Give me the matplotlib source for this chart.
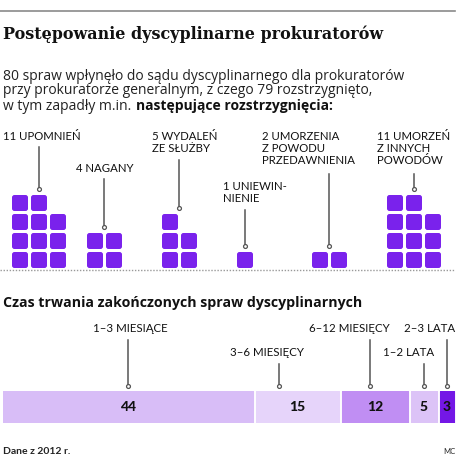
import matplotlib
matplotlib.use("Agg")
import matplotlib.pyplot as plt
from matplotlib.patches import FancyBboxPatch
import numpy as np

plt.rcParams['font.family'] = ['Lato', 'DejaVu Sans']

# --- data ---
title = "Postępowanie dyscyplinarne prokuratorów"
intro = ["80 spraw wpłynęło do sądu dyscyplinarnego dla prokuratorów",
         "przy prokuratorze generalnym, z czego 79 rozstrzygnięto,",
         "w tym zapadły m.in. "]
intro_bold = "następujące rozstrzygnięcia:"

verdict_labels = ["11 UPOMNIEŃ", "4 NAGANY", "5 WYDALEŃ\nZE SŁUŻBY",
                  "1 UNIEWIN-\nNIENIE", "2 UMORZENIA\nZ POWODU\nPRZEDAWNIENIA",
                  "11 UMORZEŃ\nZ INNYCH\nPOWODÓW"]
verdict_counts = [11, 4, 5, 1, 2, 11]
verdict_cols = [3, 2, 2, 1, 2, 3]

duration_title = "Czas trwania zakończonych spraw dyscyplinarnych"
duration_labels = ["1–3 MIESIĄCE", "3–6 MIESIĘCY", "6–12 MIESIĘCY", "1–2 LATA", "2–3 LATA"]
duration_values = [44, 15, 12, 5, 3]

source = "Dane z 2012 r."
author = "MC"

# --- styles / layout ---
W, H = 464, 462
sq_color = "#7a22ec"
bar_colors = ["#d8bdf7", "#e6d4fa", "#c08ef3", "#dcc3f7", "#7417e6"]
line_color = "#555555"
wide = ['Open Sans', 'DejaVu Sans']

fig = plt.figure(figsize=(W / 100, H / 100), dpi=100)
ax = fig.add_axes([0, 0, 1, 1])
ax.set_xlim(0, W)
ax.set_ylim(H, 0)
ax.axis("off")

ax.plot([0, 455], [11, 11], color="#8a8a8a", lw=1.2)
ax.text(3, 34, title, family=['DejaVu Serif'], weight="bold", fontsize=11.5,
        va="center", ha="left", color="#111111")
for i, line in enumerate(intro):
    t = ax.text(3, 76 + 15 * i, line, family=wide, fontsize=10, va="center",
                ha="left", color="#222222")
r = fig.canvas.get_renderer()
bb = t.get_window_extent(renderer=r)
ax.text(3 + bb.width + 1, 76 + 30, intro_bold, family=wide, fontsize=10,
        weight="bold", va="center", ha="left", color="#111111")

# squares
sq, step = 16, 19
base_y = 268
group_x0 = [12 + 75 * i for i in range(len(verdict_counts))]
label_x = [3, 76, 152, 223, 262, 377]
label_top = [131, 163, 131, 181, 131, 131]
for n, ncol, x0, lab, lx, ly in zip(verdict_counts, verdict_cols, group_x0,
                                    verdict_labels, label_x, label_top):
    heights = [n // ncol + (1 if c < n % ncol else 0) for c in range(ncol)]
    for c, h in enumerate(heights):
        for rrow in range(h):
            x = x0 + c * step
            y = base_y - rrow * step - sq
            ax.add_patch(FancyBboxPatch((x + 1.5, y + 1.5), sq - 3, sq - 3,
                                        boxstyle="round,pad=1.5,rounding_size=2.5",
                                        fc=sq_color, ec="none"))
    nl = lab.count("\n") + 1
    ax.text(lx, ly, lab, fontsize=8.2, va="top", ha="left", color="#111111",
            linespacing=1.1)
    cx = x0 + (ncol * step - 3) / 2
    top = base_y - max(heights) * step
    y_start = ly + nl * 13.2 + 3
    ax.plot([cx, cx], [y_start, top - 3], color=line_color, lw=1.1)
    ax.plot(cx, top - 3, "o", ms=2.8, mfc="white", mec=line_color, mew=0.9)

ax.plot([0, 455], [270, 270], color="#999999", lw=1, ls=(0, (1, 1.2)))

# duration section
ax.text(3, 303, duration_title, family=wide, fontsize=10.2, weight="bold",
        va="center", ha="left", color="#111111")

bax = fig.add_axes([3 / W, 1 - 423 / H, 454 / W, 32 / H])
total = sum(duration_values)
gap = 3 * total / 454
lefts = np.concatenate([[0], np.cumsum(duration_values)[:-1]])
bax.barh(0, [v - gap for v in duration_values], left=lefts, height=1,
         color=bar_colors, edgecolor=bar_colors, lw=0.8, joinstyle="round")
bax.set_xlim(0, total)
bax.set_ylim(-0.5, 0.5)
bax.axis("off")
for l, v in zip(lefts, duration_values):
    bax.text(l + (v - gap) / 2, 0, str(v), fontsize=10, weight="black",
             ha="center", va="center", color="#111111")

line_frac = [0.5, 0.28, 0.42, 0.5, 0.5]
dlabel_x = [130, 267, 349, 409, 455]
dlabel_ha = ["center", "center", "center", "center", "right"]
dlabel_y = [329, 353, 329, 353, 329]
for l, v, f, lx, ha, ly, lab in zip(lefts, duration_values, line_frac,
                                    dlabel_x, dlabel_ha, dlabel_y, duration_labels):
    xd = l + (v - gap) * f
    xp = bax.transData.transform((xd, 0))[0] / fig.dpi * 100
    ax.text(lx, ly, lab, fontsize=8.3, va="center", ha=ha, color="#111111")
    ax.plot([xp, xp], [ly + 11, 386], color=line_color, lw=1.1)
    ax.plot(xp, 386, "o", ms=2.8, mfc="white", mec=line_color, mew=0.9)

ax.text(3, 452, source, fontsize=7.5, weight="bold", va="center", ha="left", color="#222222")
ax.text(455, 452, author, fontsize=5.5, va="center", ha="right", color="#222222")

fig.savefig("out.png", dpi=100)
